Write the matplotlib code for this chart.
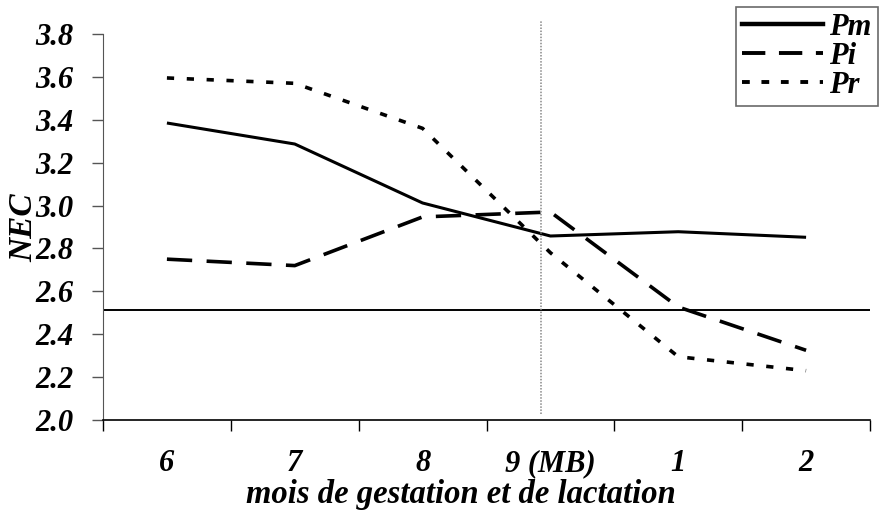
import numpy as np
import matplotlib
matplotlib.use('Agg')
from matplotlib import pyplot as plt
from matplotlib.lines import Line2D

# data
months = ['6', '7', '8', '9 (MB)', '1', '2']
pm = [3.385, 3.287, 3.012, 2.858, 2.878, 2.852]
pi = [2.75, 2.72, 2.947, 2.97, 2.527, 2.325]
pr = [3.595, 3.57, 3.36, 2.78, 2.295, 2.23]
seuil = 2.513
mb_line = 2.93

plt.rcParams['font.family'] = ['Liberation Serif', 'DejaVu Serif']
plt.rcParams['font.weight'] = 'bold'
plt.rcParams['font.style'] = 'italic'

fig = plt.figure(figsize=(8.83, 5.13), dpi=100)
ax = fig.add_axes([103/883, 1-420/513, (870-103)/883, (420-34)/513])

x = np.arange(len(months))
ax.plot(x, pm, color='black', lw=2.2, solid_capstyle='butt', solid_joinstyle='round')
ax.plot(x, pi, color='black', lw=2.6, dashes=(7, 4), dash_capstyle='butt')
ax.plot(x, pr, color='black', lw=2.6, dashes=(2, 3.5), dash_capstyle='butt')

ax.axhline(seuil, color='black', lw=1.4)
ax.plot([mb_line, mb_line], [2.03, 3.86], color='#888888', lw=1.1, ls=(0, (1, 1)), clip_on=False)

ax.set_xlim(-0.5, 5.5)
ax.set_ylim(2.0, 3.8)
ax.set_yticks(np.arange(2.0, 3.81, 0.2))
ax.set_yticklabels(['%.1f' % v for v in np.arange(2.0, 3.81, 0.2)], fontsize=22)
ax.tick_params(axis='y', length=8, width=1, color='#555555', pad=13)

ax.set_xticks(np.arange(-0.5, 5.6, 1.0))
ax.set_xticklabels([])
ax.set_xticks(x, minor=True)
ax.set_xticklabels(months, minor=True, fontsize=22)
ax.tick_params(axis='x', which='major', length=8, width=1, direction='out')
ax.tick_params(axis='x', which='minor', length=0, pad=21)

ax.spines['top'].set_visible(False)
ax.spines['right'].set_visible(False)
ax.spines['left'].set_color('#555555')
ax.spines['bottom'].set_linewidth(1.2)

fig.text(461/883, 1-495/513, 'mois de gestation et de lactation', ha='center', va='center', fontsize=23.5)
fig.text(24/883, 1-228/513, 'NEC', rotation=90, ha='center', va='center', fontsize=24)

handles = [Line2D([], [], color='black', lw=3.2),
           Line2D([], [], color='black', lw=2.8, dashes=(6, 3.5)),
           Line2D([], [], color='black', lw=2.8, dashes=(2, 3))]
leg = fig.legend(handles, ['Pm', 'Pi', 'Pr'], loc='upper left',
                 bbox_to_anchor=(736/883, 1-7/513), fontsize=22, frameon=True,
                 fancybox=False, edgecolor='#444444', handlelength=2.65,
                 handletextpad=0.2, labelspacing=0.0, borderpad=0.2, borderaxespad=0)
leg.get_frame().set_linewidth(1.2)

fig.savefig('out.png', dpi=100)
